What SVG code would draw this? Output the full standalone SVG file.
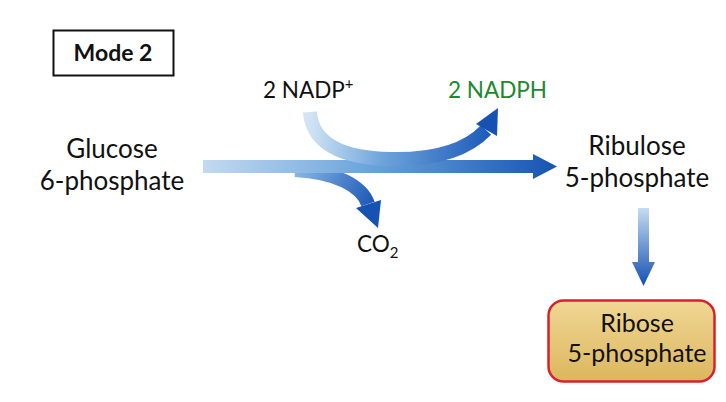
<svg xmlns="http://www.w3.org/2000/svg" width="726" height="402" viewBox="0 0 726 402">
<defs>
<linearGradient id="gMain" gradientUnits="userSpaceOnUse" x1="203" y1="0" x2="557" y2="0">
<stop offset="0" stop-color="#c2daf0"/>
<stop offset="0.45" stop-color="#6fa6dc"/>
<stop offset="1" stop-color="#1554b4"/>
</linearGradient>
<linearGradient id="gNadp" gradientUnits="userSpaceOnUse" x1="310" y1="112" x2="495" y2="125">
<stop offset="0" stop-color="#d2e4f4"/>
<stop offset="0.4" stop-color="#6fa5dc"/>
<stop offset="1" stop-color="#1a58b8"/>
</linearGradient>
<linearGradient id="gCo2" gradientUnits="userSpaceOnUse" x1="295" y1="170" x2="372" y2="210">
<stop offset="0" stop-color="#8ab8e4"/>
<stop offset="1" stop-color="#1a56b6"/>
</linearGradient>
<linearGradient id="gDown" gradientUnits="userSpaceOnUse" x1="0" y1="208" x2="0" y2="286">
<stop offset="0" stop-color="#c4dcf1"/>
<stop offset="1" stop-color="#1550b2"/>
</linearGradient>
<linearGradient id="gBox" x1="0" y1="0" x2="0" y2="1">
<stop offset="0" stop-color="#f0d794"/>
<stop offset="1" stop-color="#dcb65e"/>
</linearGradient>
<style>
text{font-family:Lato,"Open Sans","Liberation Sans",sans-serif;fill:#111;}
.lbl{font-size:26px;text-anchor:middle;}
.sm{font-size:22.5px;}
.band{fill:none;stroke-width:14;}
.head{fill:#1652b4;}
</style>
</defs>
<rect width="726" height="402" fill="#ffffff"/>

<g id="mode-label">
<rect x="53.5" y="30.5" width="120" height="45" fill="#ffffff" stroke="#111" stroke-width="2"/>
<text x="113" y="61" style="font-size:23px;font-weight:bold;text-anchor:middle">Mode 2</text>
</g>

<g id="connectors">
<path class="band" stroke="url(#gCo2)" d="M 295 170 C 336 172, 362 186, 368 204"/>
<polygon class="head" points="356,208 381,200 378,228"/>
<path d="M 203 160 L 533 160 L 533 154 L 557 166.5 L 533 179 L 533 173 L 203 173 Z" fill="url(#gMain)"/>
<path class="band" stroke="url(#gNadp)" d="M 310 112 C 312 142, 340 158, 390 159 C 432 160, 465 152, 486 130"/>
<polygon class="head" points="476,124 498,108 497,136"/>
<path d="M 638 208 L 649 208 L 649 262 L 655 262 L 643.5 286 L 632 262 L 638 262 Z" fill="url(#gDown)"/>
</g>

<g id="glucose-6-phosphate">
<text class="lbl" x="112" y="158">Glucose</text>
<text class="lbl" x="112" y="190">6-phosphate</text>
</g>

<g id="nadp">
<text class="sm" x="263" y="98">2 NADP<tspan dy="-9" style="font-size:15px">+</tspan></text>
</g>

<g id="nadph">
<text class="sm" x="448" y="98" style="fill:#1a8a2e">2 NADPH</text>
</g>

<g id="co2">
<text class="sm" x="357" y="252">CO<tspan dy="6" style="font-size:15px">2</tspan></text>
</g>

<g id="ribulose-5-phosphate">
<text class="lbl" x="637" y="155">Ribulose</text>
<text class="lbl" x="637" y="187">5-phosphate</text>
</g>

<g id="ribose-5-phosphate">
<rect x="548.5" y="300.5" width="166" height="81" rx="15" fill="url(#gBox)" stroke="#d8202e" stroke-width="2.5"/>
<text class="lbl" x="637" y="331.5" style="font-size:25px">Ribose</text>
<text class="lbl" x="637" y="362" style="font-size:25px">5-phosphate</text>
</g>
</svg>
